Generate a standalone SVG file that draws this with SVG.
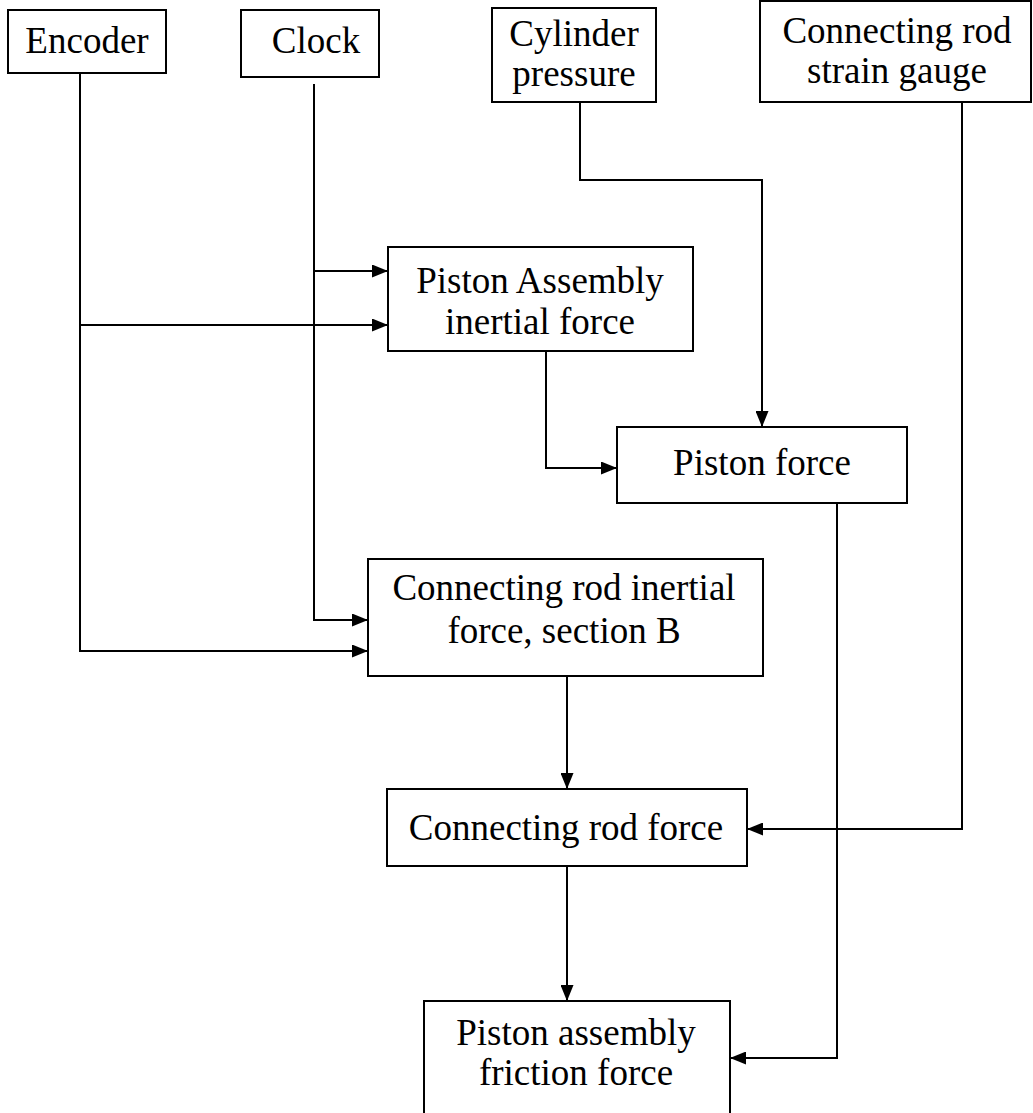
<svg xmlns="http://www.w3.org/2000/svg" width="1033" height="1113" viewBox="0 0 1033 1113">
  <style>
    .box { fill: #ffffff; stroke: #000000; stroke-width: 2; }
    .label { font-family: "Liberation Serif", "Times New Roman", serif; font-size: 37px; fill: #000000; text-anchor: middle; }
    .wire { fill: none; stroke: #000000; stroke-width: 2; }
  </style>
  <defs>
    <marker id="arrow" viewBox="0 0 16 13" refX="16" refY="6.5" markerWidth="16" markerHeight="13" markerUnits="userSpaceOnUse" orient="auto">
      <path d="M0,0 L16,6.5 L0,13 Z" fill="#000000"/>
    </marker>
  </defs>
  <rect width="1033" height="1113" fill="#ffffff"/>

  <!-- connectors -->
  <g id="connectors">
    <!-- encoder trunk and its two branches -->
    <path class="wire" d="M80,73 V651 H368" marker-end="url(#arrow)"/>
    <path class="wire" d="M80,325 H388" marker-end="url(#arrow)"/>
    <!-- clock trunk and its two branches -->
    <path class="wire" d="M314,84 V620 H368" marker-end="url(#arrow)"/>
    <path class="wire" d="M314,271 H388" marker-end="url(#arrow)"/>
    <!-- cylinder pressure to piston force -->
    <path class="wire" d="M580,102 V180 H762 V427" marker-end="url(#arrow)"/>
    <!-- piston assembly inertial force to piston force -->
    <path class="wire" d="M546,351 V468 H617" marker-end="url(#arrow)"/>
    <!-- piston force to friction force -->
    <path class="wire" d="M837,503 V1058 H730" marker-end="url(#arrow)"/>
    <!-- strain gauge to connecting rod force -->
    <path class="wire" d="M962,102 V829 H747" marker-end="url(#arrow)"/>
    <!-- connecting rod inertial force to connecting rod force -->
    <path class="wire" d="M567,676 V789" marker-end="url(#arrow)"/>
    <!-- connecting rod force to friction force -->
    <path class="wire" d="M567,866 V1001" marker-end="url(#arrow)"/>
  </g>

  <g id="encoder">
    <rect class="box" x="8" y="10" width="158" height="63"/>
    <text class="label" x="87" y="53">Encoder</text>
  </g>
  <g id="clock">
    <rect class="box" x="241" y="10" width="138" height="67"/>
    <text class="label" x="316" y="53">Clock</text>
  </g>
  <g id="cylinder-pressure">
    <rect class="box" x="492" y="8" width="164" height="94"/>
    <text class="label" x="574" y="46">Cylinder</text>
    <text class="label" x="574" y="86">pressure</text>
  </g>
  <g id="strain-gauge">
    <rect class="box" x="760" y="1" width="271" height="101"/>
    <text class="label" x="897" y="43">Connecting rod</text>
    <text class="label" x="897" y="83">strain gauge</text>
  </g>
  <g id="piston-assembly-inertial">
    <rect class="box" x="388" y="247" width="305" height="104"/>
    <text class="label" x="540" y="293">Piston Assembly</text>
    <text class="label" x="540" y="334">inertial force</text>
  </g>
  <g id="piston-force">
    <rect class="box" x="617" y="427" width="290" height="76"/>
    <text class="label" x="762" y="475">Piston force</text>
  </g>
  <g id="conrod-inertial">
    <rect class="box" x="368" y="559" width="395" height="117"/>
    <text class="label" x="564" y="600">Connecting rod inertial</text>
    <text class="label" x="564" y="643">force, section B</text>
  </g>
  <g id="conrod-force">
    <rect class="box" x="387" y="789" width="360" height="77"/>
    <text class="label" x="566" y="840">Connecting rod force</text>
  </g>
  <g id="friction-force">
    <rect class="box" x="424" y="1001" width="306" height="120"/>
    <text class="label" x="576" y="1045">Piston assembly</text>
    <text class="label" x="576" y="1085">friction force</text>
  </g>
</svg>
